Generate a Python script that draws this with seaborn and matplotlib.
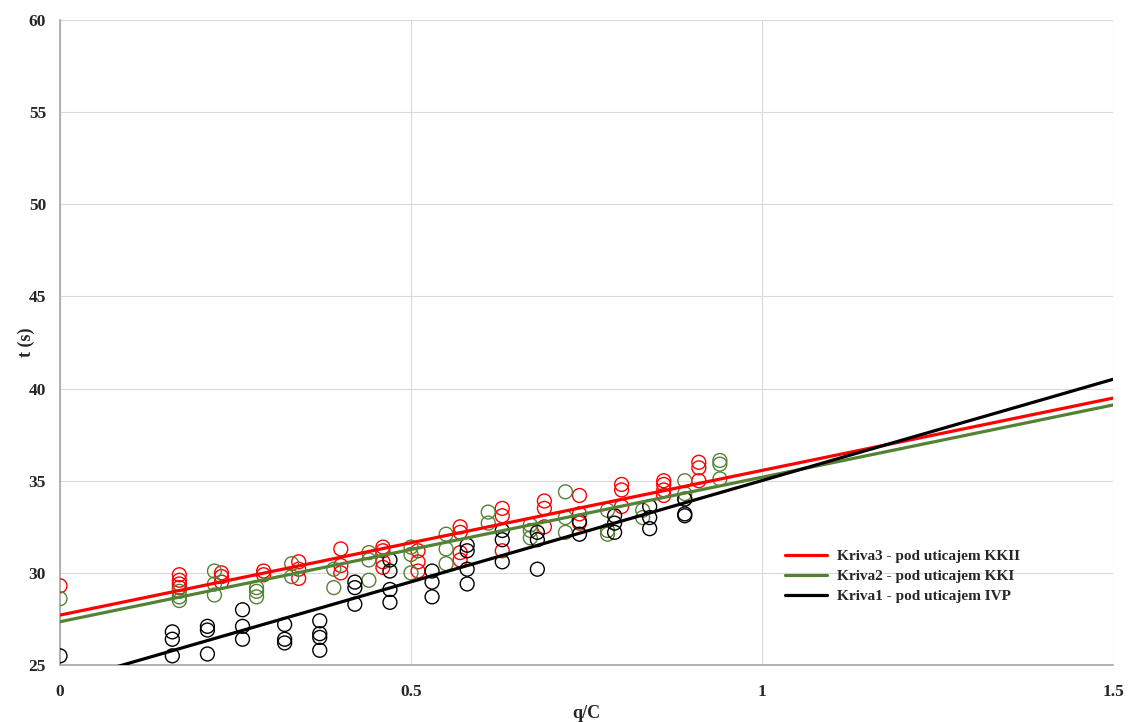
import numpy as np
import pandas as pd
import matplotlib
matplotlib.use("Agg")
import matplotlib.pyplot as plt
import seaborn as sns

# ---- podaci (ocitano sa slike) ----
# Kriva1 - pod uticajem IVP (crno)
k1_x = [0.0, 0.16, 0.16, 0.16, 0.21, 0.21, 0.21, 0.26, 0.26, 0.26,
        0.32, 0.32, 0.32, 0.37, 0.37, 0.37, 0.37, 0.42, 0.42, 0.42,
        0.47, 0.47, 0.47, 0.47, 0.53, 0.53, 0.53, 0.58, 0.58, 0.58, 0.58,
        0.63, 0.63, 0.63, 0.68, 0.68, 0.68, 0.74, 0.74, 0.79, 0.79, 0.79,
        0.84, 0.84, 0.84, 0.89, 0.89, 0.89]
k1_t = [25.5, 26.8, 26.4, 25.5, 27.1, 26.9, 25.6, 28.0, 27.1, 26.4,
        27.2, 26.4, 26.2, 27.4, 26.7, 26.5, 25.8, 29.5, 29.2, 28.3,
        30.7, 30.1, 29.1, 28.4, 30.1, 29.5, 28.7, 31.5, 31.2, 30.2, 29.4,
        32.3, 31.8, 30.6, 32.2, 31.8, 30.2, 32.8, 32.1, 33.1, 32.7, 32.2,
        33.6, 33.0, 32.4, 34.0, 33.2, 33.1]

# Kriva2 - pod uticajem KKI (zeleno)
k2_x = [0.0, 0.17, 0.17, 0.17, 0.22, 0.22, 0.22, 0.28, 0.28, 0.28,
        0.33, 0.33, 0.39, 0.39, 0.44, 0.44, 0.44, 0.50, 0.50, 0.50,
        0.55, 0.55, 0.55, 0.61, 0.61, 0.67, 0.67, 0.67, 0.72, 0.72, 0.72,
        0.78, 0.78, 0.78, 0.83, 0.83, 0.89, 0.89, 0.89, 0.94, 0.94, 0.94]
k2_t = [28.6, 29.0, 28.7, 28.5, 30.1, 29.4, 28.8, 29.2, 29.0, 28.7,
        30.5, 29.8, 30.2, 29.2, 31.1, 30.7, 29.6, 31.4, 31.0, 30.0,
        32.1, 31.3, 30.5, 33.3, 32.7, 32.6, 32.3, 31.9, 34.4, 33.0, 32.2,
        33.4, 32.3, 32.1, 33.4, 33.0, 35.0, 34.3, 34.0, 36.1, 35.9, 35.1]

# Kriva3 - pod uticajem KKII (crveno)
k3_x = [0.0, 0.17, 0.17, 0.17, 0.17, 0.23, 0.23, 0.23, 0.29, 0.29,
        0.34, 0.34, 0.34, 0.40, 0.40, 0.40, 0.46, 0.46, 0.46, 0.46,
        0.51, 0.51, 0.51, 0.57, 0.57, 0.57, 0.57, 0.63, 0.63, 0.63,
        0.69, 0.69, 0.69, 0.74, 0.74, 0.74, 0.80, 0.80, 0.80,
        0.86, 0.86, 0.86, 0.86, 0.91, 0.91, 0.91]
k3_t = [29.3, 29.9, 29.6, 29.4, 29.2, 30.0, 29.8, 29.5, 30.1, 29.9,
        30.6, 30.2, 29.7, 31.3, 30.4, 30.0, 31.4, 31.2, 30.6, 30.3,
        31.2, 30.6, 30.1, 32.5, 32.2, 31.1, 30.7, 33.5, 33.1, 31.2,
        33.9, 33.5, 32.5, 34.2, 33.2, 32.7, 34.8, 34.5, 33.6,
        35.0, 34.8, 34.5, 34.2, 36.0, 35.7, 35.0]

# linearni trendovi (odsecak, nagib) ocitani sa slike
names = ["Kriva3 - pod uticajem KKII", "Kriva2 - pod uticajem KKI", "Kriva1 - pod uticajem IVP"]
intercepts = [27.71, 27.35, 24.02]
slopes = [7.85, 7.84, 10.99]
colors = ["#ff0000", "#548235", "#000000"]
xs = [k3_x, k2_x, k1_x]
ts = [k3_t, k2_t, k1_t]

sns.set_style("white")
plt.rcParams["font.family"] = ["Liberation Serif", "DejaVu Serif"]
plt.rcParams["font.weight"] = "bold"

fig = plt.figure(figsize=(11.28, 7.22), dpi=100)
ax = fig.add_axes([0.0532, 0.0789, 0.9335, 0.8934])

x_line = np.array([0.0, 1.5])
for name, b0, b1, c, x, t in zip(names, intercepts, slopes, colors, xs, ts):
    sns.scatterplot(x=x, y=t, ax=ax, marker="o", s=100, color=c,
                    facecolor="none", edgecolor=c, linewidth=1.0, zorder=3)
    line = pd.DataFrame({"x": x_line, "y": b0 + b1 * x_line})
    sns.lineplot(data=line, x="x", y="y", ax=ax, color=c, linewidth=2.3,
                 label=name, zorder=4)

ax.set_xlim(0, 1.5)
ax.set_ylim(25, 60)
ax.set_xticks([0, 0.5, 1, 1.5])
ax.set_xticklabels(["0", "0.5", "1", "1.5"])
ax.set_yticks(range(25, 61, 5))
ax.grid(True, color="#d9d9d9", linewidth=0.8)
ax.set_axisbelow(True)
for s in ["top", "right"]:
    ax.spines[s].set_visible(False)
for s in ["left", "bottom"]:
    ax.spines[s].set_color("#a6a6a6")
    ax.spines[s].set_linewidth(1.2)
ax.tick_params(length=0, labelsize=12.5)
ax.tick_params(axis="x", pad=14)
ax.tick_params(axis="y", pad=10)
for lab in ax.get_xticklabels() + ax.get_yticklabels():
    lab.set_fontweight("bold")

ax.set_xlabel("q/C", fontsize=13, fontweight="bold")
ax.set_ylabel("t (s)", fontsize=13, fontweight="bold")
ax.xaxis.set_label_coords(0.5, -0.062)
ax.yaxis.set_label_coords(-0.024, 0.5)

leg = ax.legend(loc="upper left", bbox_to_anchor=(0.675, 0.2), frameon=False,
                handlelength=2.8, handletextpad=0.65, labelspacing=0.4,
                prop={"weight": "bold", "size": 11})

fig.savefig("out.png", dpi=100)
